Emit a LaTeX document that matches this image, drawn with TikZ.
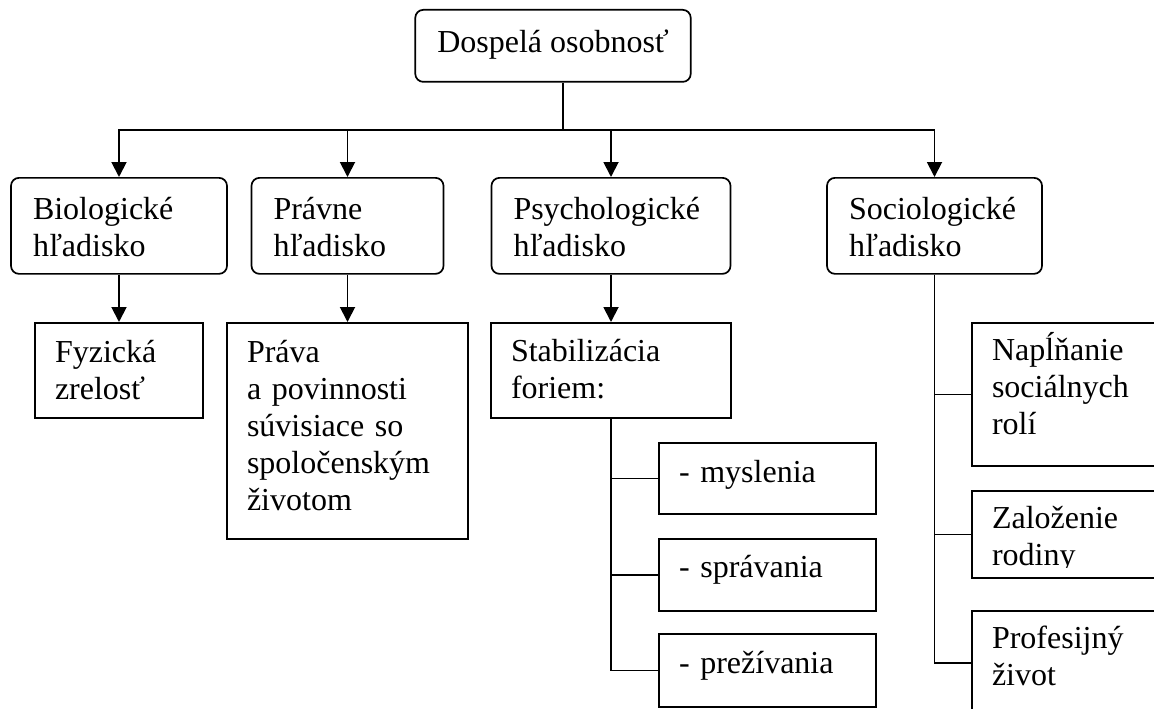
\documentclass[tikz,border=0pt]{standalone}
\usepackage{fontspec}
\setmainfont{Liberation Serif}
\usetikzlibrary{arrows.meta}
\tikzset{
  rbox/.style={draw, line width=1.7pt, rounded corners=8pt, align=left, anchor=north, inner xsep=22pt, inner ysep=0pt, text height=42pt, text depth=54pt},
  sbox/.style={draw, line width=1.7pt, align=left, anchor=north, inner xsep=20pt, inner ysep=0pt, text height=40pt},
  arr/.style={line width=1.9pt, -{Triangle[width=15pt,length=15pt]}},
  link/.style={line width=1.5pt}
}
\begin{document}
\begin{tikzpicture}[x=1pt,y=-1pt,font=\fontsize{32}{36.8}\selectfont]
\useasboundingbox (0,0) rectangle (1154,709);
% top
\node[rbox, align=center, minimum width=266pt, text height=43pt, text depth=29pt] (top) at (553,9) {Dospelá osobnosť};
% second row
\node[rbox, text width=172pt] (bio) at (119,177) {Biologické\\hľadisko};
\node[rbox, text width=148pt] (prav) at (347.5,177) {Právne\\hľadisko};
\node[rbox, text width=195pt] (psy) at (611,177) {Psychologické\\hľadisko};
\node[rbox, text width=171pt] (soc) at (934.5,177) {Sociologické\\hľadisko};
% third row
\node[sbox, text width=128pt, text depth=55pt] (fyz) at (119,322) {Fyzická\\zrelosť};
\node[sbox, text width=201pt, text depth=176pt] (prava) at (347.5,322) {Práva\\a povinnosti\\súvisiace so\\spoločenským\\životom};
\node[sbox, text width=200pt, text height=39pt, text depth=56pt] (stab) at (611,322) {Stabilizácia\\foriem:};
\node[sbox, text width=177pt, text depth=31pt] (mys) at (767.5,442) {- myslenia};
\node[sbox, text width=177pt, text height=39pt, text depth=33pt] (spr) at (767.5,538) {- správania};
\node[sbox, text width=177pt, text depth=33pt] (pre) at (767.5,633) {- prežívania};
\node[sbox, text width=178pt, text height=38pt, text depth=105pt] (nap) at (1081,322) {Napĺňanie\\sociálnych\\rolí};
\begin{scope}
  \clip (960,480) rectangle (1200,567) (960,567) rectangle (976,590) (960,574) rectangle (1200,590);
  \node[sbox, text width=178pt, text height=38pt, text depth=49pt] (zal) at (1081,490) {Založenie\\rodiny};
\end{scope}
\node[sbox, text width=178pt, text height=38pt, text depth=66pt] (prof) at (1081,610) {Profesijný\\život};
% connectors
\coordinate (hub) at (563,130);
\draw[line width=1.9pt] (top.south -| hub) -- (hub);
\foreach \n in {bio,prav,psy,soc}{
  \draw[arr] (hub) -| (\n);
}
\draw[arr] (bio) -- (fyz);
\draw[arr] (prav) -- (prava);
\draw[arr] (psy) -- (stab);
\foreach \n in {mys,spr,pre}{
  \draw[link] (stab.south) |- (\n.west);
}
\foreach \n in {nap,zal,prof}{
  \draw[link] (soc.south) |- (\n.west);
}
\end{tikzpicture}
\end{document}
